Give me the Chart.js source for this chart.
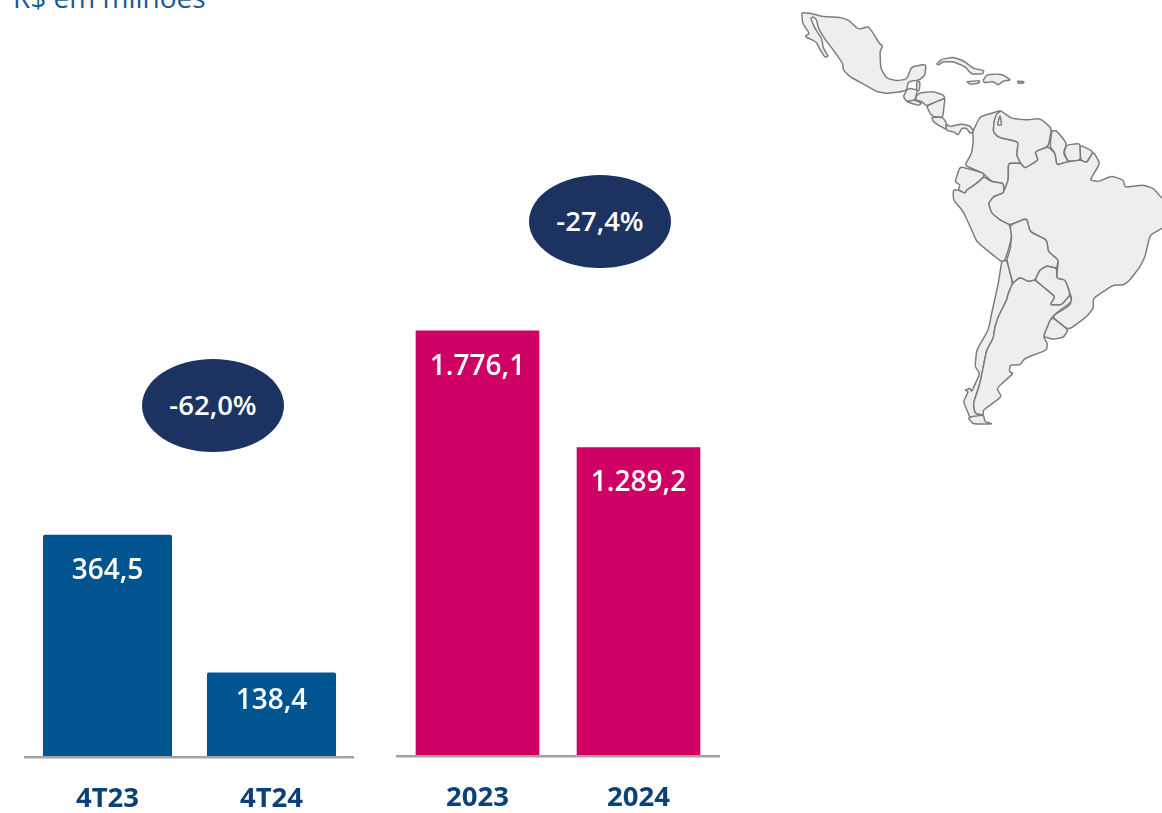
<!DOCTYPE html>
<html><head><meta charset="utf-8">
<script src="https://cdn.jsdelivr.net/npm/chart.js@4"></script>
<style>
html,body{margin:0;padding:0;background:#fff;width:1162px;height:813px;overflow:hidden;font-family:"Open Sans",sans-serif}
canvas{position:absolute;left:0;top:0}
#sub{position:absolute;left:13px;top:-20px;font-size:28px;line-height:34px;color:#1a5a96;white-space:nowrap}
.ell{position:absolute;width:142px;height:93px;border-radius:50%;background:#1c3260;color:#fff;font-weight:600;font-size:27.5px;line-height:92px;text-align:center}
#map{position:absolute;left:0;top:0;filter:blur(0.35px)}
#map path{fill:#eeeeee;stroke:#7c7c7c;stroke-width:4.4;stroke-linejoin:round}
</style></head><body>
<svg id="map" width="1162" height="813"><g id="g1" transform="translate(790,0) scale(0.33333)">
<polygon points="35,38 62,40 100,50 150,52 175,60 205,88 235,80 250,100 268,130 278,138 270,155 272,205 290,235 320,242 350,238 365,200 408,193 405,225 388,240 355,245 350,270 335,275 290,280 260,275 225,255 180,230 160,210 158,190 130,150 105,118 85,85 80,60 70,50 62,55 75,85 95,115 100,145 115,168 105,172 90,148 78,125 45,110 58,100 38,70"/>
<polygon points="350,270 340,290 350,305 375,300 380,280 382,270 360,265"/>
<polygon points="380,245 390,245 388,272 380,272"/>
<polygon points="378,290 390,278 430,275 460,285 465,295 440,305 410,318 395,305 378,300"/>
<polygon points="350,305 375,300 395,310 385,316 365,310"/>
<polygon points="410,318 440,305 465,295 462,320 458,352 430,350 420,340"/>
<polygon points="425,352 458,352 470,370 468,388 450,378 430,365"/>
<polygon points="468,372 480,380 515,372 540,378 552,395 540,400 530,385 515,385 505,405 490,395 470,392"/>
<polygon points="440,192 455,178 490,172 520,182 550,205 582,212 578,222 545,222 525,200 490,185 460,185 445,195"/>
<polygon points="590,225 620,222 640,225 662,240 640,243 625,255 610,245 582,248 580,240"/>
<polygon points="530,245 570,242 565,250 540,253"/>
<polygon points="682,243 702,245 700,250 685,250"/>
<polygon points="548,395 570,350 605,340 630,332 632,345 612,365 610,395 625,412 685,425 680,465 692,490 655,490 655,540 642,578 640,550 605,545 580,520 545,505 525,495 545,460 550,420"/>
<polygon points="612,365 618,345 632,332 640,338 665,355 710,360 750,355 785,385 775,440 735,455 745,480 705,505 692,490 680,465 685,425 625,412 610,395"/>
<polygon data-white="1" points="630,345 622,375 635,375"/>
<polygon points="785,392 800,392 830,430 820,460 835,485 800,495 795,460 780,440"/>
<polygon points="830,435 870,430 872,480 835,485 822,458"/>
<polygon points="870,435 910,455 890,488 872,480"/>
<polygon points="692,490 705,505 745,480 735,455 775,440 795,460 800,495 835,485 872,480 890,488 910,455 930,490 900,540 925,545 965,528 1000,540 1005,562 1060,555 1090,565 1116,595 1130,600 1130,680 1116,685 1080,705 1065,770 1050,800 1020,840 1000,855 970,855 910,895 910,925 890,950 835,990 785,950 840,915 845,895 835,865 825,840 800,835 805,780 775,755 770,720 720,695 710,655 660,675 630,660 605,640 595,610 610,590 640,578 655,540 655,490"/>
<polygon points="510,500 550,510 580,520 582,530 560,550 530,570 525,580 505,570 510,555 495,545"/>
<polygon points="490,570 505,570 525,580 530,570 560,550 582,530 605,545 640,550 642,578 610,590 595,610 605,640 630,660 660,675 665,710 655,750 645,780 635,785 615,770 560,725 545,690 520,635 490,600"/>
<g transform="translate(420,600)">
<polygon points="240,75 290,55 300,95 350,120 355,155 385,180 380,205 350,198 330,210 315,240 295,245 270,232 248,250 230,180 240,150 245,110"/>
<polygon points="315,240 330,210 350,198 380,205 380,235 405,240 415,265 420,285 395,315 360,315 375,290 345,265"/>
<polygon points="215,185 230,180 248,250 235,280 230,300 205,350 195,380 190,415 170,450 160,500 150,550 130,610 135,640 160,645 165,670 125,665 115,640 100,605 115,575 105,570 120,565 125,575 150,520 135,500 140,450 175,390 185,340 205,250"/>
<polygon points="248,250 270,232 295,245 315,240 345,265 375,290 360,315 395,315 420,285 425,305 365,350 340,410 352,430 350,450 285,475 270,495 240,495 238,515 250,520 200,565 215,590 160,630 160,645 135,640 130,610 150,550 160,500 170,450 190,415 195,380 205,350 230,300 235,280"/>
<polygon points="365,350 415,390 400,412 370,418 340,410"/>
<polygon points="125,650 160,645 165,665 188,672 130,672 115,655"/>
</g></g></svg>
<div id="sub">R$ em milhões</div>
<canvas id="left" width="1162" height="813"></canvas>
<canvas id="right" width="1162" height="813"></canvas>
<div class="ell" style="left:142px;top:359px">-62,0%</div>
<div class="ell" style="left:529px;top:175px">-27,4%</div>
<script>
const quarterLabels = ["4T23", "4T24"];
const quarterValues = [364.5, 138.4];
const yearLabels = ["2023", "2024"];
const yearValues = [1776.1, 1289.2];

const fmt = v => v.toLocaleString("pt-BR", {minimumFractionDigits: 1, maximumFractionDigits: 1});

// round the corners of the traced outlines of the background map
document.querySelectorAll("#map polygon").forEach(pg => {
  const p = pg.getAttribute("points").trim().split(/\s+/).map(s => s.split(",").map(Number));
  const n = p.length, t = 0.22;
  const lerp = (a, b, k) => [a[0] + (b[0] - a[0]) * k, a[1] + (b[1] - a[1]) * k];
  let d = "";
  for (let i = 0; i < n; i++) {
    const prev = p[(i + n - 1) % n], cur = p[i], next = p[(i + 1) % n];
    const a = lerp(cur, prev, t), b = lerp(cur, next, t);
    d += `${i ? "L" : "M"}${a[0]},${a[1]}Q${cur[0]},${cur[1]} ${b[0]},${b[1]}`;
  }
  const el = document.createElementNS("http://www.w3.org/2000/svg", "path");
  el.setAttribute("d", d + "Z");
  if (pg.dataset.white) el.style.fill = "#fff";
  pg.replaceWith(el);
});

const valueLabels = {
  id: "valueLabels",
  afterDatasetsDraw(chart) {
    const {ctx} = chart;
    const meta = chart.getDatasetMeta(0);
    ctx.save();
    ctx.fillStyle = "#fff";
    ctx.font = "600 28px 'Open Sans'";
    ctx.textAlign = "center";
    ctx.textBaseline = "middle";
    meta.data.forEach((bar, i) => {
      const h = bar.base - bar.y;
      ctx.fillText(fmt(chart.data.datasets[0].data[i]), bar.x, bar.y + Math.min(36, h / 3));
    });
    ctx.restore();
  }
};

function makeChart(id, labels, values, color, pad, bottom, yMax, barPct, radius) {
  return new Chart(document.getElementById(id), {
    type: "bar",
    data: {labels, datasets: [{data: values, backgroundColor: color, borderRadius: radius, borderSkipped: "bottom",
      barPercentage: barPct, categoryPercentage: 1}]},
    plugins: [valueLabels],
    options: {
      responsive: false, animation: false,
      layout: {padding: {left: pad[0], right: pad[1], top: 0, bottom: 0}},
      plugins: {legend: {display: false}, tooltip: {enabled: false}},
      scales: {
        y: {display: false, min: 0, max: yMax},
        x: {
          grid: {display: false, drawTicks: false},
          border: {color: "#a3a3a3", width: 2.5, z: 2},
          ticks: {color: "#0b4079", padding: 26, maxRotation: 0, font: {family: "'Open Sans'", weight: 700, size: 27.5}},
          afterFit(s) { s.height = bottom; }
        }
      }
    }
  });
}
makeChart("left", quarterLabels, quarterValues, "#00548f", [25.5, 808.5], 56, 1241, 0.787, 2);
makeChart("right", yearLabels, yearValues, "#ce0064", [397, 443], 57, 3156, 0.768, 0);
</script>
</body></html>
